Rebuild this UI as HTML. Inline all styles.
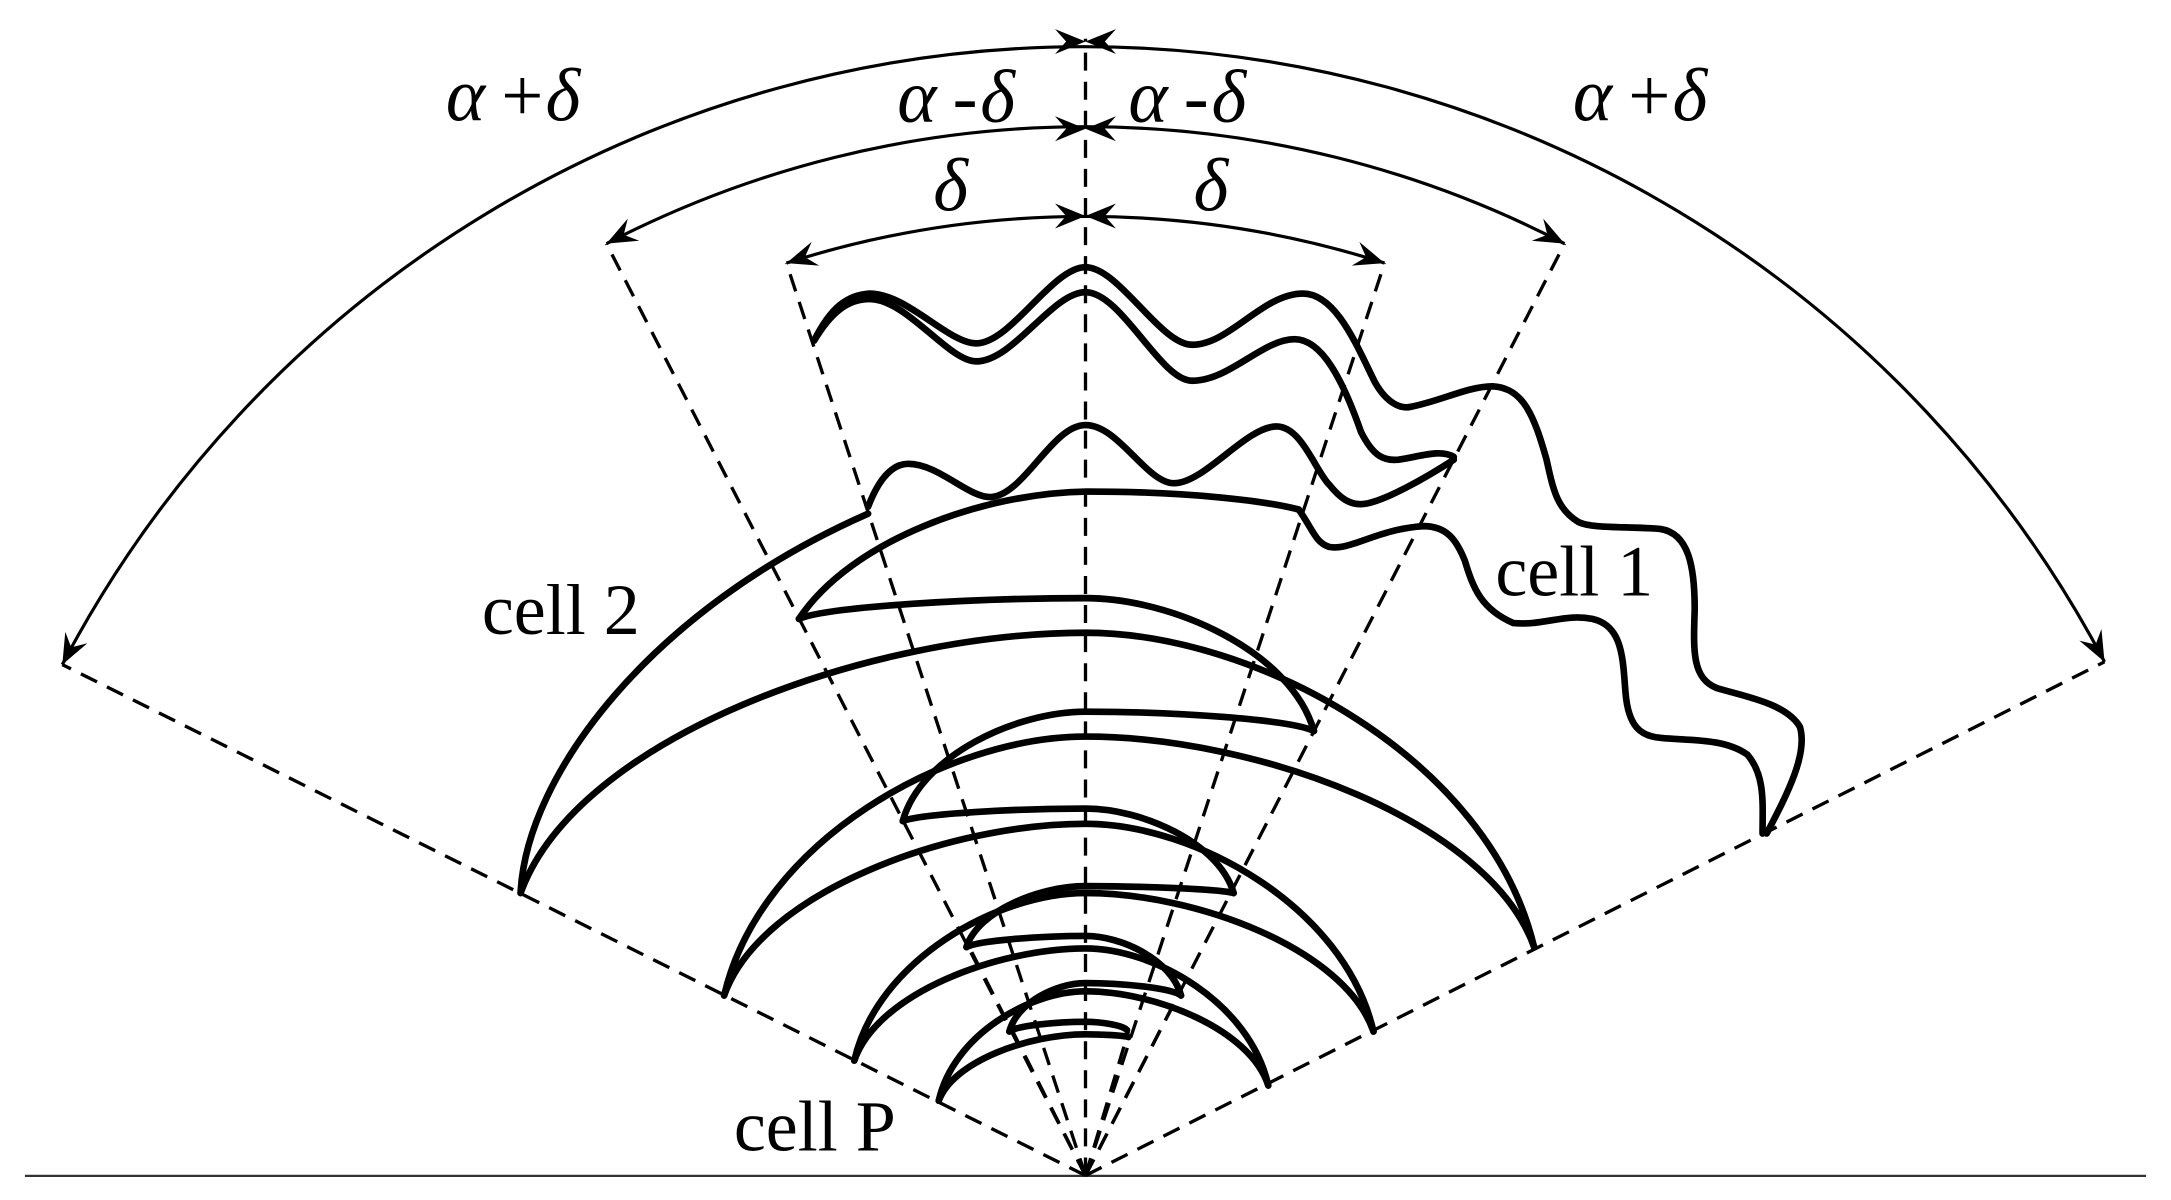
<!DOCTYPE html>
<html><head><meta charset="utf-8">
<style>
html,body{margin:0;padding:0;background:#fff;}
svg{display:block;}
text{font-family:"Liberation Serif",serif;fill:#000;}
</style></head>
<body>
<svg id="s" width="2171" height="1200" viewBox="0 0 1568 866.7" preserveAspectRatio="none" xmlns="http://www.w3.org/2000/svg">
<rect width="1568" height="866.7" fill="#fff"/>
<line x1="18" y1="849.3" x2="1550" y2="849.3" stroke="#333" stroke-width="1.6"/>
<g id="dash" fill="none" stroke="#000" stroke-width="2.4" stroke-dasharray="13,8"></g>
<g id="dim" fill="none" stroke="#000" stroke-width="2.3"></g>
<g id="arr" fill="#000" stroke="none"></g>
<g id="cells" fill="none" stroke="#000" stroke-width="4.8" stroke-linejoin="round" stroke-linecap="round"></g>
<text x="322" y="87" font-size="54" font-style="italic">α</text><text x="362" y="87" font-size="54">+</text><text x="394" y="87" font-size="54" font-style="italic">δ</text>
<text x="1136" y="87" font-size="54" font-style="italic">α</text><text x="1176" y="87" font-size="54">+</text><text x="1208" y="87" font-size="54" font-style="italic">δ</text>
<text x="648" y="88" font-size="54" font-style="italic">α</text><text x="688" y="88" font-size="54">-</text><text x="708" y="88" font-size="54" font-style="italic">δ</text>
<text x="815" y="88" font-size="54" font-style="italic">α</text><text x="855" y="88" font-size="54">-</text><text x="875" y="88" font-size="54" font-style="italic">δ</text>
<text x="674" y="152" font-size="54" font-style="italic">δ</text>
<text x="862" y="152" font-size="54" font-style="italic">δ</text>
<text x="348" y="458" font-size="52">cell 2</text>
<text x="1080" y="430" font-size="52">cell 1</text>
<text x="530" y="831" font-size="52">cell P</text>
</svg>
<script>
(function(){
var NS="http://www.w3.org/2000/svg";
function el(g,tag,attrs){var e=document.createElementNS(NS,tag);for(var k in attrs)e.setAttribute(k,attrs[k]);document.getElementById(g).appendChild(e);return e;}
var AX=784,AY=849;
var rays=[[45,480],[1520,478],[438,176],[1130,176],[568,190],[1000,190],[784,28]];
rays.forEach(function(p){el("dash","line",{x1:AX,y1:AY,x2:p[0],y2:p[1]});});
[[700,684],[853,715],[730,742],[815,745]].forEach(function(p){el("dash","line",{x1:AX,y1:AY,x2:p[0],y2:p[1]});});
function arcs(L,R,cy,top){
  var r=cy-top;
  el("dim","path",{d:"M"+L[0]+" "+L[1]+" A"+r+" "+r+" 0 0 1 "+R[0]+" "+R[1]});
  [L,R].forEach(function(P,i){
    var rx=P[0]-784, ry=P[1]-cy; var tx=-ry, ty=rx; var n=Math.hypot(tx,ty); tx/=n;ty/=n;
    if((i==0&&tx>0)||(i==1&&tx<0)){tx=-tx;ty=-ty;}
    arrow(P[0],P[1],tx,ty);
  });
  arrow(784,top,1,0);arrow(784,top,-1,0);
}
function arrow(x,y,dx,dy){
  var L=22,W=9,N=14; var px=-dy,py=dx;
  var bx=x-dx*L,by=y-dy*L, nx=x-dx*N, ny=y-dy*N;
  el("arr","path",{d:"M"+x+" "+y+" L"+(bx+px*W)+" "+(by+py*W)+" L"+nx+" "+ny+" L"+(bx-px*W)+" "+(by-py*W)+" Z"});
}
arcs([45,480],[1520,478],863.4,30);
arcs([438,176],[1130,176],843.8,93);
arcs([568,190],[1000,190],865.5,156);
var C=784;
function half(A,yp,rev){
  var w=C-A[0], h=A[1]-yp;
  var c1=[A[0]+0.1*w,A[1]-0.6*h], c2=[C-0.38*w,yp];
  if(!rev) return " C"+c1+" "+c2+" "+C+","+yp;
  return " C"+c2+" "+c1+" "+A[0]+","+A[1];
}
function arch(A,yp,B){
  el("cells","path",{d:"M"+A[0]+","+A[1]+half(A,yp,false)+half(B,yp,true)});
}
var L30=[376,645],R1475=[1108,684],L320=[523,719],R1245=[992,745],L505=[617,766],R1095=[916,784],L625=[678,795];
var L425=[577,447],R1160=[949,528],L575=[652,593],R1045=[891,645],L665=[698,684],R970=[853,719],L725=[729,745];
arch(L30,457,R1475);arch(L320,532,R1475);arch(L320,595,R1245);arch(L505,645,R1245);arch(L505,685,R1095);arch(L625,716,R1095);
arch(L625,747,[815,749]);
arch(L425,432,R1160);arch(L575,514,R1160);arch(L575,584,R1045);arch(L665,640,R1045);arch(L665,676,R970);arch(L725,710,R970);arch(L725,738,[814,744]);
function P(d){el("cells","path",{d:d});}
P("M376,645 C380,560 470,440 627,371");
P("M577,447 C615,390 710,356 785,355 C860,355 915,362 938,368");
P("M588,246 C600,222 612,213 628,212 C655,212 685,248 705,248 C730,248 760,193 784,193 C808,193 838,249 861,249 C888,249 912,212 941,212 C965,212 980,250 993,276 C1002,292 1012,295 1018,294 C1040,290 1060,279 1078,279 C1100,280 1108,300 1117,332 C1122,355 1125,368 1140,377 C1150,382 1175,380 1199,382 C1220,385 1224,410 1224,440 C1223,470 1222,490 1240,497 C1260,503 1290,508 1300,525 C1306,545 1290,575 1276,602");
P("M588,246 C600,226 612,216 628,216 C655,216 685,261 705,261 C732,261 760,211 784,211 C810,211 838,275 861,275 C888,275 912,245 935,245 C955,245 970,275 983,312 C992,330 1000,333 1010,332 C1025,330 1040,324 1050,330");
P("M627,366 C635,345 645,335 656,335 C678,335 700,360 716,359 C740,357 760,307 784,307 C808,307 828,349 848,349 C870,349 900,308 922,308 C940,308 950,340 960,350 C968,360 975,365 985,364 C1000,362 1030,345 1050,332");
P("M938,368 C948,382 950,392 960,395 C975,398 995,382 1028,380 C1045,380 1052,390 1058,405 C1064,425 1070,440 1093,450 C1115,452 1130,443 1150,447 C1172,452 1172,475 1174,500 C1176,525 1185,532 1200,533 C1220,535 1245,533 1262,545 C1275,560 1273,580 1273,602");
})();
</script>
</body></html>
